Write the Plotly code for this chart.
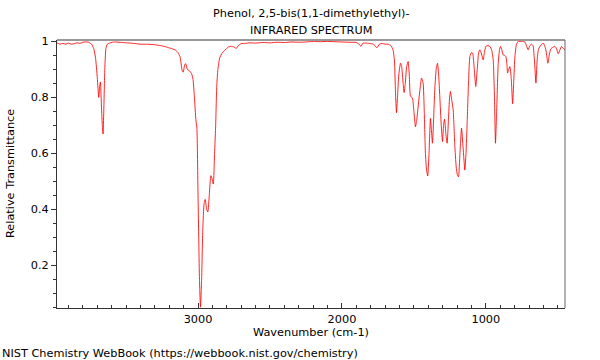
import plotly.graph_objects as go

wavenumber = [3980, 3960, 3940, 3920, 3900, 3880, 3860, 3840, 3820, 3800, 3780, 3760, 3740, 3725, 3712, 3700,
              3690, 3683, 3678, 3672, 3665, 3660, 3655, 3648, 3640, 3630, 3610, 3580, 3550, 3500, 3450, 3400,
              3350, 3300, 3260, 3220, 3190, 3160, 3140, 3125, 3110, 3103, 3092, 3085, 3075, 3060, 3045, 3035,
              3025, 3015, 3008, 3000, 2990, 2983, 2975, 2967, 2958, 2950, 2940, 2932, 2922, 2911, 2903, 2894,
              2885, 2878, 2870, 2862, 2850, 2830, 2810, 2790, 2770, 2750, 2734, 2720, 2700, 2670, 2640, 2600,
              2550, 2500, 2450, 2400, 2350, 2300, 2250, 2200, 2150, 2100, 2050, 2000, 1950, 1900, 1880, 1868,
              1855, 1830, 1800, 1780, 1765, 1755, 1740, 1720, 1700, 1680, 1660, 1645, 1635, 1628, 1621, 1614,
              1605, 1593, 1585, 1575, 1568, 1560, 1550, 1540, 1532, 1524, 1510, 1500, 1489, 1480, 1466, 1455,
              1447, 1436, 1428, 1420, 1412, 1404, 1395, 1385, 1378, 1371, 1363, 1355, 1345, 1336, 1328, 1320,
              1310, 1301, 1294, 1287, 1278, 1269, 1260, 1252, 1246, 1237, 1227, 1215, 1204, 1196, 1190, 1180,
              1169, 1158, 1146, 1138, 1130, 1120, 1111, 1100, 1092, 1085, 1070, 1060, 1050, 1042, 1030, 1019,
              1010, 1000, 985, 972, 960, 949, 940, 933, 925, 914, 905, 898, 889, 880, 870, 861,
              854, 849, 841, 833, 824, 814, 806, 798, 787, 775, 750, 729, 718, 706, 694, 682,
              672, 662, 652, 644, 635, 624, 612, 601, 592, 583, 576, 569, 560, 550, 543, 530,
              520, 510, 497, 485, 474, 462, 450]

transmittance = [0.995, 0.99, 0.993, 0.99, 0.994, 0.99, 0.992, 0.995, 0.993, 0.997, 0.998, 0.997, 0.99, 0.975, 0.94, 0.87,
                 0.80, 0.84, 0.855, 0.78, 0.70, 0.669, 0.75, 0.90, 0.975, 0.99, 0.995, 0.998, 0.997, 0.995, 0.993, 0.99,
                 0.99, 0.988, 0.985, 0.98, 0.975, 0.97, 0.96, 0.945, 0.895, 0.89, 0.918, 0.92, 0.90, 0.895, 0.885, 0.865,
                 0.80, 0.72, 0.69, 0.45, 0.15, 0.05, 0.15, 0.33, 0.42, 0.435, 0.40, 0.39, 0.45, 0.52, 0.51, 0.49,
                 0.60, 0.69, 0.84, 0.90, 0.94, 0.96, 0.97, 0.98, 0.982, 0.98, 0.975, 0.985, 0.992, 0.993, 0.995, 0.994,
                 0.996, 0.995, 0.997, 0.996, 0.998, 0.997, 0.998, 1.0, 0.999, 1.0, 0.999, 0.998, 0.997, 0.996, 0.99, 0.982,
                 0.993, 0.994, 0.992, 0.99, 0.98, 0.978, 0.99, 0.993, 0.99, 0.99, 0.985, 0.97, 0.93, 0.82, 0.745, 0.80,
                 0.88, 0.922, 0.91, 0.85, 0.817, 0.85, 0.91, 0.928, 0.88, 0.805, 0.797, 0.75, 0.695, 0.72, 0.79, 0.84,
                 0.869, 0.851, 0.75, 0.60, 0.54, 0.519, 0.60, 0.725, 0.68, 0.636, 0.72, 0.827, 0.90, 0.922, 0.88, 0.803,
                 0.70, 0.642, 0.70, 0.722, 0.67, 0.636, 0.72, 0.80, 0.821, 0.79, 0.755, 0.62, 0.54, 0.52, 0.516, 0.60,
                 0.69, 0.62, 0.54, 0.60, 0.708, 0.86, 0.946, 0.96, 0.958, 0.93, 0.839, 0.90, 0.96, 0.97, 0.955, 0.934,
                 0.96, 0.982, 0.985, 0.982, 0.97, 0.934, 0.80, 0.636, 0.75, 0.922, 0.97, 0.982, 0.97, 0.952, 0.95, 0.946,
                 0.92, 0.887, 0.90, 0.91, 0.87, 0.777, 0.86, 0.946, 0.99, 1.0, 1.0, 0.998, 0.985, 0.97, 0.985, 0.99,
                 0.985, 0.93, 0.851, 0.93, 0.97, 0.982, 0.99, 0.994, 0.985, 0.97, 0.945, 0.922, 0.95, 0.972, 0.976, 0.98,
                 0.982, 0.975, 0.956, 0.97, 0.982, 0.975, 0.97]

x_range = [3980, 450]
y_range = [0.047, 1.005]
y_tickvals = [0.2, 0.4, 0.6, 0.8, 1.0]
y_ticktext = ["0.2", "0.4", "0.6", "0.8", "1"]
x_tickvals = [1000, 2000, 3000]
x_ticktext = ["1000", "2000", "3000"]

title_line1 = "Phenol, 2,5-bis(1,1-dimethylethyl)-"
title_line2 = "INFRARED SPECTRUM"
x_title = "Wavenumber (cm-1)"
y_title = "Relative Transmittance"
footer = "NIST Chemistry WebBook (https://webbook.nist.gov/chemistry)"

FONT = "DejaVu Sans"
FS = 11.3
fig = go.Figure()
fig.add_trace(go.Scatter(x=wavenumber, y=transmittance, mode="lines",
                         line=dict(color="rgba(255,0,0,0.85)", width=1, shape="spline", smoothing=0.5),
                         hoverinfo="skip", showlegend=False))

L, R, T, B = 57, 35, 40, 52
PW = 600 - L - R
PH = 360 - T - B

fig.update_layout(
    width=600, height=360,
    margin=dict(l=L, r=R, t=T, b=B, pad=0),
    paper_bgcolor="white", plot_bgcolor="white",
    font=dict(family=FONT, size=FS, color="#000000"),
    xaxis=dict(range=x_range, tickvals=x_tickvals, ticktext=x_ticktext,
               ticks="inside", ticklen=5, tickwidth=1, tickcolor="#333333",
               showline=True, linecolor="#333333", linewidth=1, mirror=False,
               showgrid=False, zeroline=False,
               minor=dict(dtick=100, tick0=0, ticks="inside", ticklen=3, tickcolor="#333333", showgrid=False),
               tickfont=dict(family=FONT, size=FS, color="#000000")),
    yaxis=dict(range=y_range, tickvals=y_tickvals, ticktext=y_ticktext,
               ticks="outside", ticklen=5, tickwidth=1, tickcolor="#333333",
               showline=True, linecolor="#333333", linewidth=1, mirror=False,
               showgrid=False, zeroline=False,
               minor=dict(dtick=0.05, tick0=0, ticks="outside", ticklen=3, tickcolor="#333333", showgrid=False),
               tickfont=dict(family=FONT, size=FS, color="#000000")),
    shapes=[
        dict(type="line", xref="paper", yref="paper", x0=0, x1=1, y0=1, y1=1,
             line=dict(color="#999999", width=2)),
        dict(type="line", xref="paper", yref="paper", x0=1, x1=1, y0=0, y1=1,
             line=dict(color="#666666", width=1)),
    ],
    annotations=[
        dict(text=title_line1, xref="paper", yref="paper", x=0.5, y=1, yshift=27,
             xanchor="center", yanchor="middle", showarrow=False, font=dict(family=FONT, size=FS)),
        dict(text=title_line2, xref="paper", yref="paper", x=0.5, y=1, yshift=10,
             xanchor="center", yanchor="middle", showarrow=False, font=dict(family=FONT, size=FS)),
        dict(text=x_title, xref="paper", yref="paper", x=0.5, y=0, yshift=-24,
             xanchor="center", yanchor="middle", showarrow=False, font=dict(family=FONT, size=FS)),
        dict(text=y_title, xref="paper", yref="paper", x=0, xshift=-47, y=0.5, textangle=-90,
             xanchor="center", yanchor="middle", showarrow=False, font=dict(family=FONT, size=FS)),
        dict(text=footer, xref="paper", yref="paper", x=(0 - L) / PW, y=0, yshift=-45,
             xanchor="left", yanchor="middle", showarrow=False, font=dict(family=FONT, size=FS)),
    ],
)

fig.write_html("out.html", config={"displayModeBar": False},
               post_script="document.body.style.margin='0px';document.body.style.overflow='hidden';")
